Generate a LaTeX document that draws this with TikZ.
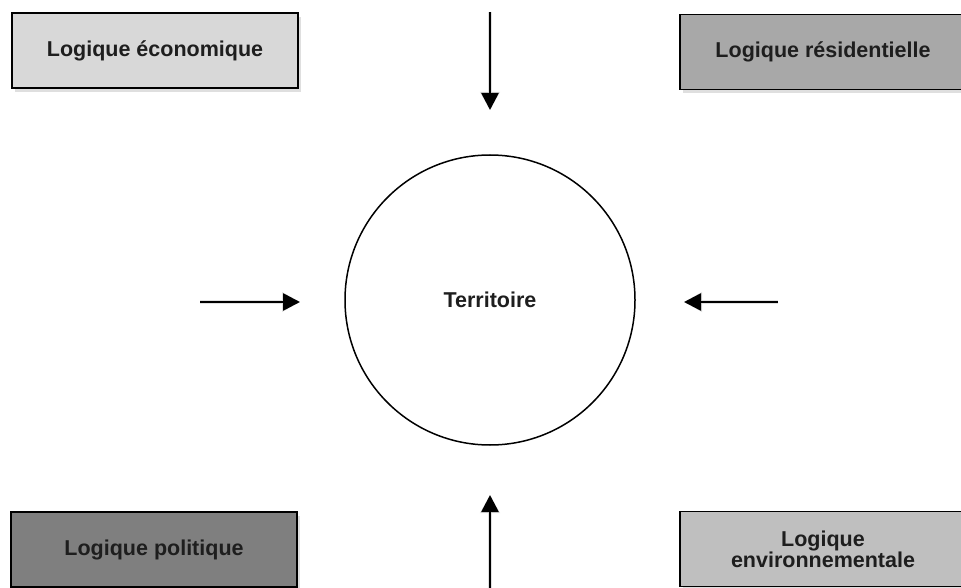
\documentclass[tikz,border=0pt]{standalone}
\usepackage{fontspec}
\setmainfont{Liberation Sans}
\usetikzlibrary{arrows.meta,shadows}
\definecolor{boxA}{HTML}{D8D8D8}
\definecolor{boxB}{HTML}{A8A8A8}
\definecolor{boxC}{HTML}{7F7F7F}
\definecolor{boxD}{HTML}{BFBFBF}
\definecolor{txt}{HTML}{1E1E1E}
\begin{document}
\begin{tikzpicture}[x=1pt,y=-1pt,
  logbox/.style={draw=black, line width=1.8pt, minimum width=286pt, minimum height=75pt,
    inner sep=0pt, font=\fontsize{21.5}{24}\selectfont\bfseries, text=txt, align=center,
    drop shadow={opacity=0.25, shadow xshift=3pt, shadow yshift=-4pt}},
  flow/.style={line width=2.6pt, -{Triangle[length=17pt,width=17pt]}},
  flowshadow/.style={line width=4pt, black!12, -{Triangle[length=18pt,width=19pt]}},
  terr/.style={circle, draw=black, line width=1.5pt, minimum size=290pt, fill=white,
    font=\fontsize{21.5}{24}\selectfont\bfseries, text=txt}]
\useasboundingbox (0,0) rectangle (961,588);
\clip (0,0) rectangle (961,588);
\fill[white] (0,0) rectangle (961,588);
\node[logbox, fill=boxA] (eco) at (155,50.5) {Logique économique};
\node[logbox, fill=boxB] (res) at (823,52) {Logique résidentielle};
\node[logbox, fill=boxC] (pol) at (154,549.5) {Logique politique};
\node[logbox, fill=boxD] (env) at (823,549) {Logique\\[-3pt]environnementale};
\node[terr] (ter) at (490,300) {Territoire};
\coordinate (tS) at (490,12);
\coordinate (tE) at (490,110);
\coordinate (bS) at (490,592);
\coordinate (bE) at (490,495);
\coordinate (lS) at (200,302);
\coordinate (lE) at (300,302);
\coordinate (rS) at (778,302);
\coordinate (rE) at (684,302);
\begin{scope}[xshift=3pt,yshift=-4pt]
\draw[flowshadow] (tS) -- (tE);
\draw[flowshadow] (bS) -- (bE);
\draw[flowshadow] (lS) -- (lE);
\draw[flowshadow] (rS) -- (rE);
\end{scope}
\draw[flow] (tS) -- (tE);
\draw[flow] (bS) -- (bE);
\draw[flow] (lS) -- (lE);
\draw[flow] (rS) -- (rE);
\end{tikzpicture}
\end{document}
